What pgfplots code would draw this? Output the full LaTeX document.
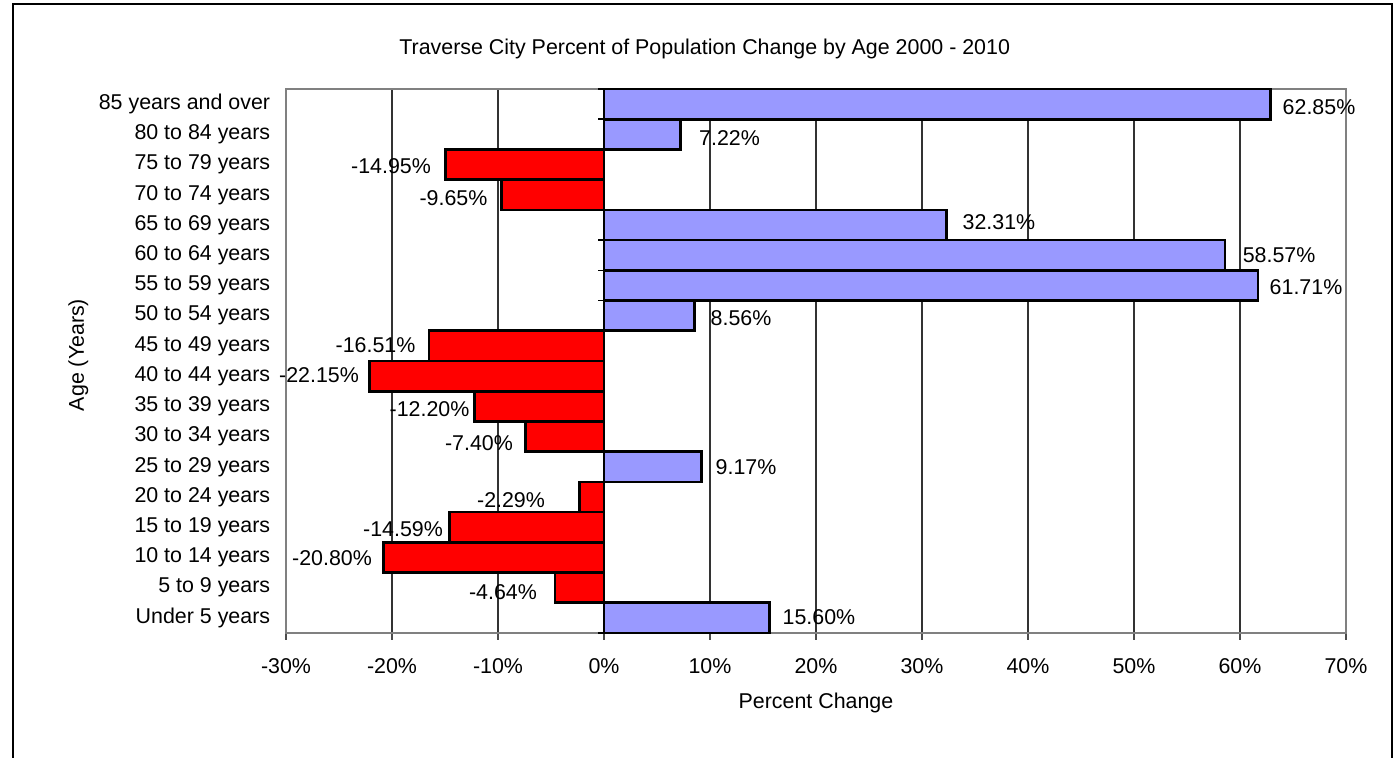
\documentclass[border=0pt]{standalone}
\usepackage{pgfplots}
\pgfplotsset{compat=1.18}
\usepackage{pgfplotstable}
\usepackage{fontspec}
\setmainfont{Liberation Sans}
\definecolor{barblue}{HTML}{9999FF}
\definecolor{barred}{HTML}{FF0000}
\pgfplotstableread{
y val dx dy
0 15.60 24.8 0.45
5 9.17 22.4 -0.1
10 8.56 23.15 -1.15
11 61.71 23.95 -0.8
12 58.57 27.1 0.1
13 32.31 26.25 1.5
16 7.22 24.5 -1.85
17 62.85 24.4 -1.45
}\posdata
\pgfplotstableread{
y val dx dy
1 -4.64 -25.9 -2.15
2 -20.80 -25.75 -0.3
3 -14.59 -23.15 -0.9
4 -2.29 -34.35 -1.5
6 -7.40 -23.3 -3.2
7 -12.20 -22.6 -1.35
8 -22.15 -25.1 0.55
9 -16.51 -26.75 0.45
14 -9.65 -24.1 -1.6
15 -14.95 -27.25 -0.7
}\negdata
\begin{document}
\begin{tikzpicture}[font=\fontsize{10.7}{13}\selectfont]
\useasboundingbox (0,0) rectangle (698.5pt,379pt);
\draw[black, line width=0.75pt] (6.5pt,-1pt) -- (6.5pt,377pt) -- (696pt,377pt) -- (696pt,-1pt);
\begin{axis}[
  at={(143pt,62.5pt)}, anchor=south west,
  scale only axis, width=530pt, height=272pt,
  xmin=-30, xmax=70, ymin=-0.5, ymax=17.5,
  clip=false,
  xtick={-30,-20,...,70},
  xticklabels={-30\%,-20\%,-10\%,0\%,10\%,20\%,30\%,40\%,50\%,60\%,70\%},
  ytick={0,...,17},
  yticklabels={Under 5 years,5 to 9 years,10 to 14 years,15 to 19 years,20 to 24 years,25 to 29 years,30 to 34 years,35 to 39 years,40 to 44 years,45 to 49 years,50 to 54 years,55 to 59 years,60 to 64 years,65 to 69 years,70 to 74 years,75 to 79 years,80 to 84 years,85 years and over},
  xmajorgrids, major grid style={black!80, line width=0.55pt},
  axis line style={gray, line width=1pt},
  xtick pos=bottom, ytick pos=left, tick align=outside,
  major tick length=3.5pt,
  xtick style={gray!60!black, line width=0.75pt},
  ytick style={draw=none},
  yticklabel style={anchor=east, xshift=-0.9pt},
  xticklabel style={anchor=center, yshift=-13pt},
  title={Traverse City Percent of Population Change by Age 2000 - 2010},
  title style={at={(axis description cs:0.395,1.051)}, anchor=center},
  xlabel={Percent Change},
  xlabel style={at={(axis description cs:0.5,-0.1287)}, anchor=center},
  ylabel={Age (Years)},
  ylabel style={at={(axis description cs:-0.196,0.511)}, anchor=center, rotate=0},
]
\addplot[xbar, bar width=1, bar shift=0pt, fill=barblue, draw=black, line width=1.3pt,
  point meta=x,
  visualization depends on={\thisrow{dx} \as \dx},
  visualization depends on={\thisrow{dy} \as \dy},
  nodes near coords={\pgfmathprintnumber[fixed,fixed zerofill,precision=2,assume math mode=true]{\pgfplotspointmeta}\%},
  every node near coord/.style={anchor=center, xshift=\dx pt, yshift=\dy pt, black, inner sep=0pt}]
  table[x=val, y=y] {\posdata};
\addplot[xbar, bar width=1, bar shift=0pt, fill=barred, draw=black, line width=1.3pt,
  point meta=x,
  visualization depends on={\thisrow{dx} \as \dx},
  visualization depends on={\thisrow{dy} \as \dy},
  nodes near coords={\pgfmathprintnumber[fixed,fixed zerofill,precision=2,assume math mode=true]{\pgfplotspointmeta}\%},
  every node near coord/.style={anchor=center, xshift=\dx pt, yshift=\dy pt, black, inner sep=0pt}]
  table[x=val, y=y] {\negdata};
\draw[black, line width=1.3pt] (axis cs:0,-0.5) -- (axis cs:0,17.5);
\pgfplotsinvokeforeach{-0.5,0.5,1.5,2.5,3.5,4.5,5.5,6.5,7.5,8.5,9.5,10.5,11.5,12.5,13.5,14.5,15.5,16.5,17.5}{
  \draw[black, line width=0.75pt] (axis cs:0,#1) -- ++(-3pt,0pt);
}
\end{axis}
\end{tikzpicture}
\end{document}
